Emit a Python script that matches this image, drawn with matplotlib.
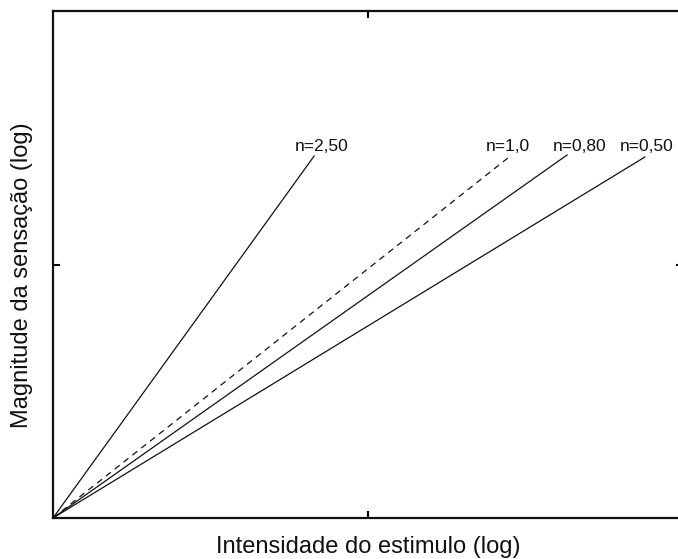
import matplotlib
matplotlib.use("Agg")
import matplotlib.pyplot as plt

plt.rcParams['font.family'] = ['Liberation Sans', 'DejaVu Sans']

# expoentes e pontos finais das retas (log intensidade, log magnitude)
expoentes = ["n=2,50", "n=1,0", "n=0,80", "n=0,50"]
x_fim = [0.829, 1.448, 1.632, 1.879]
y_fim = [1.428, 1.424, 1.432, 1.424]
estilos = ["-", (0, (5, 4)), "-", "-"]
# posição dos rótulos
x_rot = [0.854, 1.444, 1.673, 1.886]
y_rot = [1.464, 1.464, 1.464, 1.464]

fig = plt.figure(figsize=(6.78, 5.59), dpi=100)
ax = fig.add_axes([53/678, 41/559, 630/678, 507/559])

for xf, yf, ls in zip(x_fim, y_fim, estilos):
    ax.plot([0, xf], [0, yf], color="#111111", lw=0.9, linestyle=ls)

for txt, xr, yr in zip(expoentes, x_rot, y_rot):
    ax.text(xr, yr, txt, ha="center", va="center", fontsize=12.5, color="#111111")

ax.set_xlim(0, 2)
ax.set_ylim(0, 2)
ax.set_xticks([1])
ax.set_yticks([1])
ax.tick_params(direction="in", length=5, width=1.5, top=True, right=True,
               labelbottom=False, labelleft=False)
for s in ax.spines.values():
    s.set_linewidth(1.6)
    s.set_color("#111111")

ax.set_xlabel("Intensidade do estimulo (log)", fontsize=17, labelpad=13, color="#111111")
ax.set_ylabel("Magnitude da sensação (log)", fontsize=17, color="#111111")
ax.yaxis.set_label_coords(-0.031, 0.479)

fig.savefig("out.png", dpi=100)
